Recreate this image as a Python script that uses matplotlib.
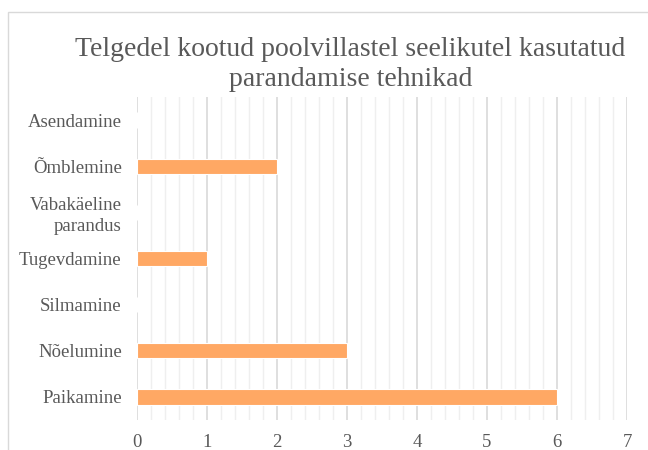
import matplotlib
matplotlib.use("Agg")
import matplotlib.pyplot as plt
from matplotlib.patches import Rectangle
from matplotlib.ticker import MultipleLocator
import numpy as np

# Data (bottom to top, as drawn)
categories = ["Paikamine", "Nõelumine", "Silmamine", "Tugevdamine",
              "Vabakäeline\nparandus", "Õmblemine", "Asendamine"]
counts = [6, 3, 0, 1, 0, 2, 0]

TEXT = "#595959"
BAR = "#FFA864"

plt.rcParams["font.family"] = ["Liberation Serif", "DejaVu Serif"]

fig = plt.figure(figsize=(6.48, 4.5), dpi=100)
ax = fig.add_axes([0.2114, 0.0667, 0.7562, 0.7178])

y = np.arange(len(categories))
ax.barh(y, counts, height=0.33, color=BAR, edgecolor="white", linewidth=0.8, zorder=3)

ax.set_xlim(0, 7)
ax.set_ylim(-0.5, len(categories) - 0.5)
ax.set_yticks(y)
ax.set_yticklabels(categories, fontsize=13.5, color=TEXT, linespacing=1.3)
ax.xaxis.set_major_locator(MultipleLocator(1))
ax.xaxis.set_minor_locator(MultipleLocator(0.2))
ax.tick_params(axis="x", which="both", length=0, labelsize=13.5, labelcolor=TEXT, pad=10)
ax.tick_params(axis="y", length=0, pad=11)

ax.grid(axis="x", which="major", color="#d9d9d9", linewidth=1.2, zorder=0)
ax.grid(axis="x", which="minor", color="#efefef", linewidth=1.0, zorder=0)
for s in ax.spines.values():
    s.set_visible(False)

fig.text(0.541, 0.857, "Telgedel kootud poolvillastel seelikutel kasutatud\nparandamise tehnikad",
         ha="center", va="center", fontsize=20, color=TEXT, linespacing=1.3)

# outer chart border (cut off at right and bottom)
fig.patches.append(Rectangle((0.0123, -0.05), 1.05, 1.0233, transform=fig.transFigure,
                             fill=False, edgecolor="#d9d9d9", linewidth=1.0))

fig.savefig("out.png", dpi=100)
